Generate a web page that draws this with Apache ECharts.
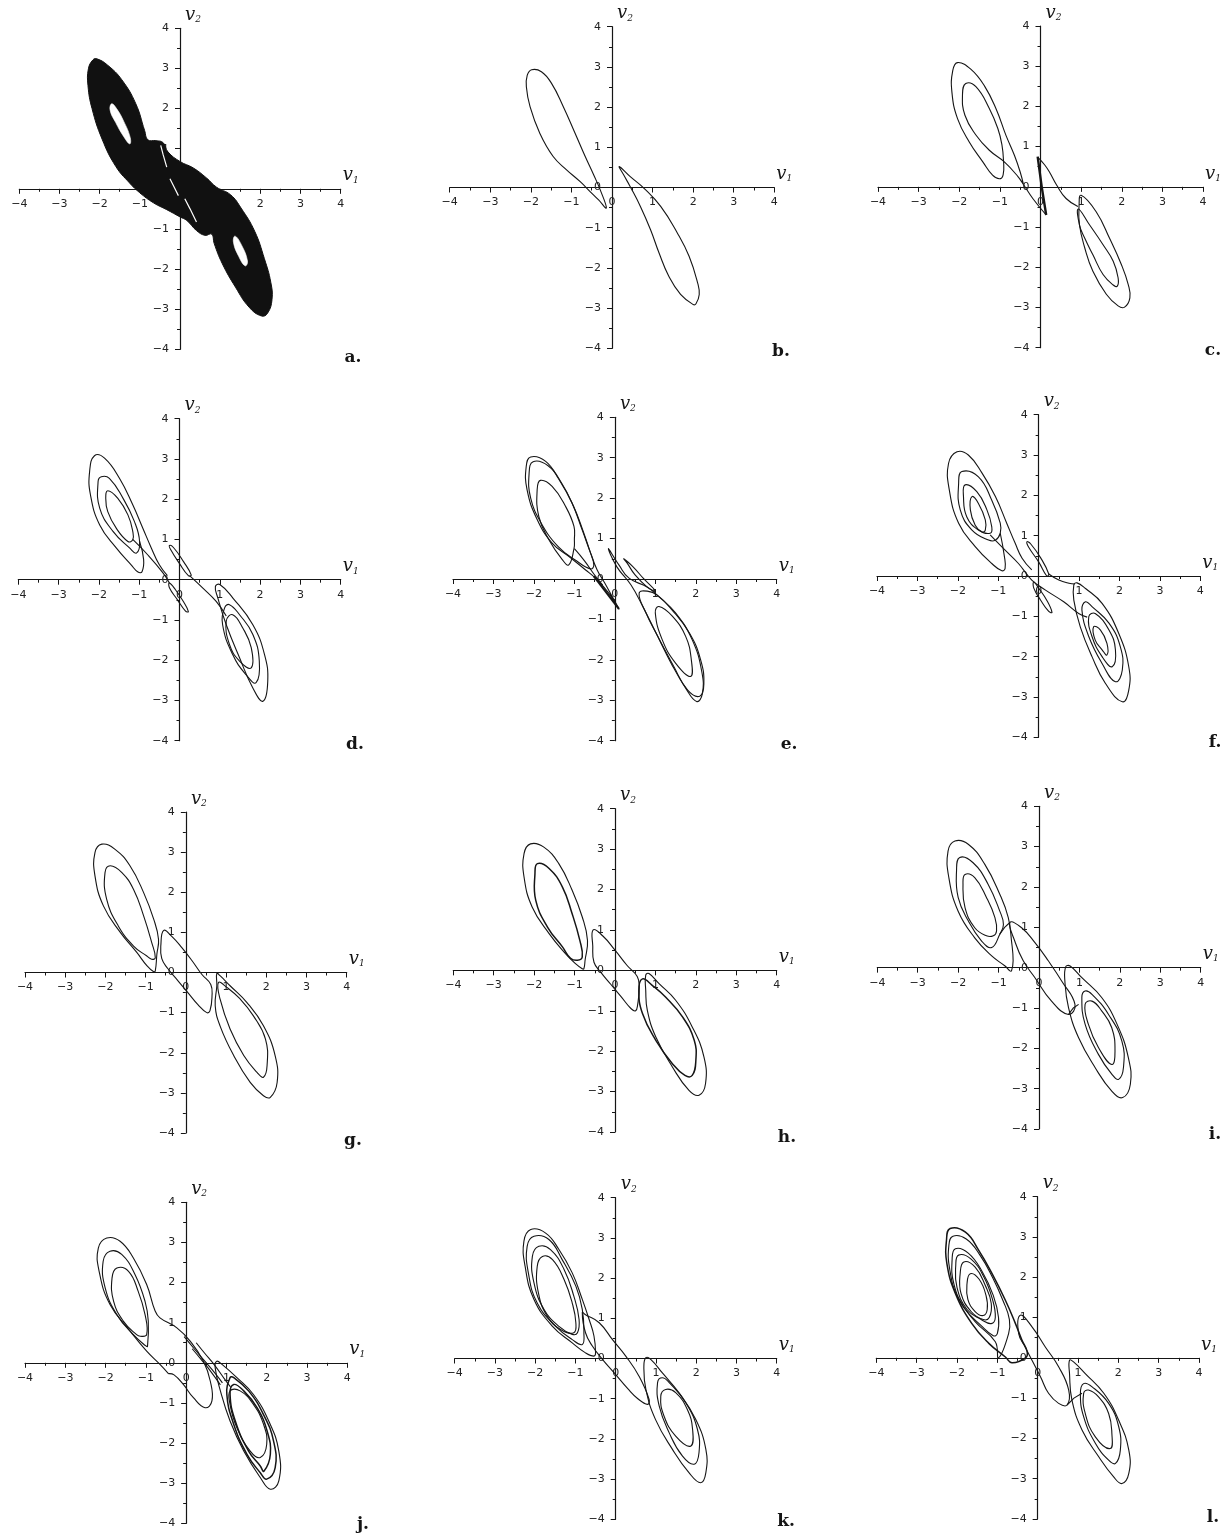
<!DOCTYPE html>
<html>
<head>
<meta charset="utf-8">
<script src="https://cdn.jsdelivr.net/npm/echarts@6/dist/echarts.min.js"></script>
<style>
html,body{margin:0;padding:0;background:#fff}
#main{width:1228px;height:1534px}
</style>
</head>
<body>
<div id="main"></div>
<script>
// axis ticks shared by all twelve panels
const tickValues = [-4, -3, -2, -1, 0, 1, 2, 3, 4];
const panelLetters = ['a.', 'b.', 'c.', 'd.', 'e.', 'f.', 'g.', 'h.', 'i.', 'j.', 'k.', 'l.'];

// ---- a: filled attractor (outline + white gaps) ----
const aOutline = [[-2.07,3.24],[-1.8,3.08],[-1.45,2.72],[-1.1,2.12],[-0.88,1.45],[-0.8,1.22],[-0.6,1.2],[-0.42,1.15],[-0.3,0.92],[0,0.68],[0.33,0.52],[0.66,0.27],[0.91,0.04],[1.26,-0.15],[1.52,-0.48],[1.86,-1.06],[2.1,-1.74],[2.26,-2.33],[2.29,-2.76],[2.18,-3.1],[2.03,-3.17],[1.72,-2.95],[1.38,-2.45],[1.05,-1.86],[0.85,-1.36],[0.79,-1.13],[0.62,-1.16],[0.41,-1.04],[0.17,-0.79],[0,-0.7],[-0.33,-0.52],[-0.66,-0.35],[-1.0,-0.1],[-1.26,0.15],[-1.6,0.56],[-1.94,1.24],[-2.19,2.0],[-2.29,2.57],[-2.28,2.99],[-2.17,3.21]];
const aHoleL = [[-1.70,2.12],[-1.58,2.0],[-1.40,1.68],[-1.24,1.28],[-1.25,1.12],[-1.40,1.30],[-1.60,1.65],[-1.74,1.96]];
const aHoleR = [[1.37,-1.18],[1.52,-1.38],[1.68,-1.8],[1.62,-1.92],[1.46,-1.68],[1.33,-1.33]];
const aGap1 = [[-0.48,1.08],[-0.42,0.85],[-0.33,0.54]];
const aGap2 = [[-0.25,0.25],[-0.15,0.05],[-0.04,-0.17]];
const aGap3 = [[0.12,-0.25],[0.25,-0.5],[0.41,-0.83]];

// ---- b ----
const bLoopL = [[-1.98,2.93],[-1.74,2.88],[-1.49,2.59],[-1.2,2.01],[-0.91,1.35],[-0.66,0.77],[-0.45,0.31],[-0.29,-0.06],[-0.14,-0.51],[-0.33,-0.31],[-0.54,-0.1],[-0.79,0.15],[-1.12,0.44],[-1.45,0.77],[-1.78,1.35],[-2.02,2.01],[-2.11,2.5],[-2.09,2.79]];
const bLoopR = [[0.18,0.52],[0.45,0.27],[0.79,-0.02],[1.2,-0.47],[1.61,-1.13],[1.9,-1.71],[2.11,-2.37],[2.15,-2.66],[2.07,-2.89],[2.0,-2.91],[1.69,-2.66],[1.4,-2.21],[1.16,-1.63],[0.95,-1.05],[0.7,-0.47],[0.45,0.02],[0.29,0.31]];

// ---- c ----
const cLeft = [[-0.42,0.06],[-0.5,0.37],[-0.64,0.78],[-0.85,1.28],[-1.09,1.93],[-1.38,2.51],[-1.71,2.92],[-2.04,3.09],[-2.16,2.89],[-2.18,2.35],[-2.04,1.69],[-1.75,1.11],[-1.42,0.62],[-1.18,0.29],[-1.01,0.2],[-0.92,0.3],[-0.91,0.65],[-0.95,1.05],[-1.05,1.45],[-1.26,1.95],[-1.59,2.49],[-1.84,2.57],[-1.92,2.3],[-1.86,1.78],[-1.59,1.29],[-1.26,0.91],[-0.89,0.62],[-0.55,0.25],[-0.42,0.06],[-0.19,-0.29],[0.14,-0.7]];
const cCross = [[-0.07,0.75],[0.03,0.0],[0.14,-0.7]];
const cLink = [[-0.07,0.74],[0.1,0.55],[0.22,0.37],[0.4,0.04],[0.63,-0.29],[0.92,-0.49]];
const cLoopRO = [[1.0,-0.21],[1.37,-0.62],[1.7,-1.28],[1.99,-1.93],[2.16,-2.43],[2.2,-2.76],[2.07,-2.99],[1.91,-2.96],[1.62,-2.67],[1.29,-2.1],[1.09,-1.52],[0.96,-0.95],[0.95,-0.45]];
const cLoopRI = [[0.93,-0.55],[1.21,-0.95],[1.54,-1.44],[1.79,-1.85],[1.91,-2.26],[1.89,-2.47],[1.79,-2.44],[1.54,-2.18],[1.29,-1.69],[1.09,-1.28],[0.96,-0.95]];

// ---- d ----
const dLeftOuter = [[-0.3,0.1],[-0.5,0.37],[-0.7,0.79],[-0.91,1.28],[-1.16,1.86],[-1.49,2.52],[-1.86,3.02],[-2.11,3.08],[-2.23,2.69],[-2.21,2.11],[-1.98,1.36],[-1.57,0.79],[-1.2,0.37],[-1.03,0.19],[-0.93,0.2],[-0.89,0.5],[-0.99,0.95]];
const dLoopLM = [[-1.94,2.56],[-1.74,2.52],[-1.4,2.02],[-1.12,1.45],[-0.99,0.95],[-1.07,0.66],[-1.24,0.79],[-1.65,1.2],[-1.98,1.78],[-2.02,2.44]];
const dLoopLI = [[-1.78,2.21],[-1.53,2.02],[-1.28,1.61],[-1.16,1.2],[-1.16,0.99],[-1.28,0.95],[-1.57,1.28],[-1.78,1.69],[-1.83,2.02]];
const dSmallU = [[-0.25,0.85],[-0.15,0.8],[0.1,0.45],[0.29,0.12],[0.22,0.1],[0.0,0.4],[-0.22,0.75]];
const dSmallD = [[-0.25,-0.08],[-0.1,-0.25],[0.1,-0.55],[0.22,-0.79],[0.15,-0.78],[-0.05,-0.5],[-0.25,-0.2]];
const dLink1 = [[-1.16,1.0],[-0.79,0.62],[-0.41,0.17],[-0.25,-0.08]];
const dLink2 = [[0.25,0.1],[0.58,-0.21],[0.91,-0.54],[1.16,-0.9]];
const dLoopRO = [[0.89,-0.17],[1.0,-0.12],[1.32,-0.45],[1.82,-1.12],[2.11,-1.86],[2.19,-2.52],[2.07,-3.02],[1.82,-2.69],[1.49,-1.94],[1.16,-1.12],[0.95,-0.45]];
const dLoopRM = [[1.9,-2.56],[1.98,-2.02],[1.82,-1.36],[1.49,-0.87],[1.24,-0.62],[1.12,-0.7],[1.07,-1.12],[1.32,-1.86],[1.65,-2.36]];
const dLoopRI = [[1.78,-2.19],[1.78,-1.69],[1.57,-1.2],[1.32,-0.87],[1.16,-1.03],[1.24,-1.61],[1.49,-2.02]];

// ---- e ----
const eLoopL1 = [[-2.08,3.02],[-1.71,2.91],[-1.38,2.46],[-1.06,1.88],[-0.81,1.22],[-0.6,0.64],[-0.44,0.23],[-0.25,-0.1],[0.1,-0.74],[-0.15,-0.35],[-0.48,0.02],[-0.73,0.23],[-1.14,0.56],[-1.55,0.89],[-1.92,1.47],[-2.17,2.21],[-2.19,2.79]];
const eLoopL2 = [[-2.02,2.9],[-1.65,2.8],[-1.32,2.38],[-1.02,1.8],[-0.79,1.2],[-0.62,0.7],[-0.52,0.35],[-0.6,0.25],[-0.95,0.45],[-1.4,0.8],[-1.83,1.4],[-2.08,2.0],[-2.12,2.6]];
const eLoopLI = [[-1.84,2.44],[-1.55,2.29],[-1.22,1.8],[-1.01,1.3],[-1.0,0.97],[-1.01,0.75],[-1.14,0.35],[-1.3,0.48],[-1.63,0.97],[-1.88,1.55],[-1.92,2.21]];
const eLoopR1 = [[2.02,-3.03],[2.16,-2.85],[2.15,-2.3],[1.91,-1.5],[1.5,-0.84],[1.1,-0.45],[0.8,-0.2],[0.35,0.02],[0.1,0.35],[-0.16,0.75],[0.05,0.3],[0.4,-0.15],[0.7,-0.7],[1.0,-1.3],[1.4,-2.1],[1.75,-2.7]];
const eLoopR2 = [[2.1,-2.9],[2.2,-2.6],[2.12,-2.0],[1.85,-1.35],[1.4,-0.75],[1.05,-0.4],[0.8,-0.3],[0.6,-0.35],[0.75,-0.8],[1.05,-1.4],[1.45,-2.15],[1.8,-2.75]];
const eLoopRI = [[1.87,-2.41],[1.89,-2.0],[1.75,-1.42],[1.42,-0.92],[1.09,-0.68],[1.0,-0.84],[1.17,-1.5],[1.5,-2.08]];
const eSmall = [[0.22,0.5],[0.45,0.3],[0.7,0.02],[1.0,-0.3],[0.8,-0.2],[0.5,0.1],[0.3,0.4]];
const eLink = [[-1.0,0.75],[-0.75,0.45],[-0.5,0.1],[-0.3,-0.15]];
const eBold = [[-0.52,0.07],[0.1,-0.74]];

// ---- f ----
const fLeftOuter = [[-0.17,0.15],[-0.41,0.44],[-0.58,0.81],[-0.79,1.31],[-1.07,1.97],[-1.4,2.55],[-1.74,3.0],[-2.02,3.08],[-2.23,2.79],[-2.21,2.13],[-1.98,1.31],[-1.57,0.73],[-1.16,0.31],[-0.91,0.13],[-0.83,0.19],[-0.85,0.5],[-0.95,1.06]];
const fLoopL2 = [[-1.9,2.59],[-1.49,2.46],[-1.16,1.88],[-0.95,1.31],[-0.95,1.06],[-1.07,0.89],[-1.24,0.89],[-1.65,1.14],[-1.94,1.64],[-1.98,2.3]];
const fLoopL3 = [[-1.82,2.26],[-1.53,2.09],[-1.28,1.64],[-1.16,1.22],[-1.2,1.06],[-1.49,1.14],[-1.78,1.47],[-1.86,1.97]];
const fLoopL4 = [[-1.65,1.97],[-1.49,1.8],[-1.32,1.39],[-1.32,1.14],[-1.4,1.09],[-1.57,1.26],[-1.69,1.64]];
const fLink = [[-1.2,1.02],[-0.83,0.64],[-0.5,0.31],[-0.17,-0.1],[0.17,-0.35],[0.62,-0.64],[0.99,-0.93],[1.2,-1.02]];
const fSmallU = [[-0.29,0.85],[-0.2,0.8],[0.05,0.45],[0.25,0.05],[0.2,0.0],[0.0,0.35],[-0.25,0.72]];
const fSmallD = [[-0.12,-0.15],[0.0,-0.3],[0.2,-0.6],[0.33,-0.9],[0.25,-0.88],[0.05,-0.6],[-0.12,-0.3]];
const fLink2 = [[0.25,0.05],[0.5,-0.1],[0.75,-0.18],[0.9,-0.2]];
const fLoopR1 = [[2.07,-3.12],[2.23,-2.83],[2.23,-2.25],[1.98,-1.42],[1.57,-0.68],[1.16,-0.31],[0.95,-0.17],[0.87,-0.22],[0.87,-0.6],[1.03,-1.26],[1.32,-2.0],[1.65,-2.66]];
const fLoopR2 = [[1.9,-2.62],[2.07,-2.33],[2.02,-1.75],[1.74,-1.17],[1.32,-0.76],[1.16,-0.64],[1.07,-0.84],[1.24,-1.5],[1.57,-2.17]];
const fLoopR3 = [[1.82,-2.25],[1.9,-1.83],[1.74,-1.34],[1.4,-0.93],[1.24,-1.01],[1.32,-1.5],[1.57,-2.0]];
const fLoopR4 = [[1.69,-1.96],[1.69,-1.67],[1.53,-1.34],[1.36,-1.26],[1.4,-1.59],[1.57,-1.83]];

// ---- g ----
const gLoopLO = [[-2.09,3.2],[-1.76,3.07],[-1.39,2.66],[-1.05,1.99],[-0.8,1.33],[-0.68,0.83],[-0.72,0.46],[-0.76,0.04],[-0.8,0.02],[-0.97,0.17],[-1.22,0.5],[-1.63,1.0],[-2.05,1.66],[-2.26,2.41],[-2.26,2.99]];
const gLoopLI = [[-1.88,2.66],[-1.59,2.49],[-1.3,2.07],[-1.05,1.41],[-0.85,0.75],[-0.76,0.37],[-0.85,0.33],[-0.97,0.41],[-1.3,0.66],[-1.68,1.16],[-1.97,1.83],[-2.01,2.49]];
const gMid = [[-0.55,1.05],[-0.35,0.9],[-0.1,0.62],[0.15,0.3],[0.4,-0.05],[0.62,-0.3],[0.65,-0.6],[0.6,-0.95],[0.52,-1.0],[0.3,-0.8],[0.05,-0.5],[-0.2,-0.2],[-0.45,0.1],[-0.6,0.35],[-0.62,0.7]];
const gLoopRO = [[2.1,-3.11],[2.27,-2.74],[2.22,-2.07],[1.93,-1.33],[1.52,-0.75],[1.1,-0.33],[0.85,-0.08],[0.77,-0.02],[0.77,-0.33],[0.73,-0.83],[0.85,-1.33],[1.19,-2.07],[1.6,-2.74],[1.93,-3.07]];
const gLoopRI = [[1.93,-2.61],[2.02,-2.32],[1.98,-1.66],[1.68,-1.08],[1.35,-0.66],[1.02,-0.37],[0.81,-0.25],[0.85,-0.66],[1.1,-1.41],[1.44,-2.07],[1.77,-2.49]];

// ---- h ----
const hLoopLO = [[-2.09,3.13],[-1.76,3.05],[-1.39,2.64],[-1.06,1.98],[-0.81,1.32],[-0.68,0.74],[-0.74,0.25],[-0.77,0.04],[-0.81,0.04],[-0.97,0.16],[-1.22,0.41],[-1.63,0.91],[-2.05,1.57],[-2.25,2.31],[-2.25,2.89]];
const hLoopLI = [[-1.92,2.64],[-1.63,2.52],[-1.3,2.06],[-1.06,1.4],[-0.87,0.74],[-0.81,0.33],[-0.93,0.25],[-1.1,0.3],[-1.3,0.58],[-1.67,1.07],[-1.96,1.73],[-1.98,2.39]];
const hMid = [[-0.54,1.0],[-0.3,0.85],[0.0,0.5],[0.3,0.12],[0.55,-0.15],[0.6,-0.4],[0.56,-0.85],[0.51,-1.0],[0.4,-0.95],[0.15,-0.65],[-0.1,-0.35],[-0.35,-0.05],[-0.52,0.2],[-0.55,0.6]];
const hLoopRO = [[2.08,-3.09],[2.24,-2.8],[2.2,-2.14],[1.91,-1.4],[1.5,-0.74],[1.09,-0.33],[0.84,-0.08],[0.76,-0.12],[0.76,-0.49],[0.8,-0.99],[1.01,-1.65],[1.42,-2.39],[1.83,-2.97]];
const hLoopRI = [[1.91,-2.6],[2.0,-2.23],[1.96,-1.73],[1.67,-1.15],[1.25,-0.66],[0.92,-0.37],[0.68,-0.21],[0.59,-0.49],[0.68,-1.07],[1.01,-1.73],[1.42,-2.31],[1.73,-2.6]];

// ---- i ----
const iLoopL1 = [[-2.08,3.14],[-1.75,3.06],[-1.34,2.56],[-0.97,1.82],[-0.76,1.24],[-0.68,0.66],[-0.64,0.17],[-0.68,-0.08],[-0.72,-0.08],[-0.84,0.04],[-1.17,0.29],[-1.59,0.74],[-2.0,1.4],[-2.23,2.23],[-2.25,2.89]];
const iLoopL2 = [[-1.96,2.73],[-1.63,2.6],[-1.26,2.07],[-0.97,1.4],[-0.88,1.07],[-0.97,0.83],[-1.17,0.5],[-1.42,0.66],[-1.75,1.16],[-2.0,1.74],[-2.04,2.4]];
const iLoopL3 = [[-1.83,2.31],[-1.59,2.23],[-1.3,1.74],[-1.09,1.24],[-1.05,0.91],[-1.13,0.79],[-1.3,0.79],[-1.59,0.99],[-1.83,1.49],[-1.88,2.07]];
const iMid = [[-0.72,1.12],[-0.43,0.99],[-0.1,0.62],[0.23,0.17],[0.56,-0.33],[0.89,-0.91],[0.73,-1.16],[0.31,-0.83],[-0.1,-0.25],[-0.39,0.17],[-0.6,0.66]];
const iLink1 = [[-0.97,0.83],[-0.85,1.0],[-0.72,1.12]];
const iLink2 = [[0.73,-1.16],[0.85,-1.0],[0.98,-0.91]];
const iLoopR1 = [[2.07,-3.22],[2.26,-2.89],[2.21,-2.23],[1.93,-1.4],[1.55,-0.74],[1.06,-0.25],[0.77,0.04],[0.66,0.02],[0.64,-0.33],[0.73,-0.99],[0.98,-1.74],[1.39,-2.48],[1.8,-3.06]];
const iLoopR2 = [[1.97,-2.77],[2.09,-2.47],[2.05,-1.82],[1.72,-1.16],[1.31,-0.66],[1.14,-0.58],[1.06,-0.74],[1.14,-1.4],[1.47,-2.15],[1.8,-2.64]];
const iLoopR3 = [[1.8,-2.4],[1.88,-2.07],[1.8,-1.49],[1.55,-1.07],[1.31,-0.83],[1.14,-0.91],[1.22,-1.4],[1.47,-1.98]];

// ---- j ----
const jLeftOuter = [[-0.44,-0.27],[-0.65,-0.04],[-0.98,0.29],[-1.39,0.79],[-1.89,1.45],[-2.16,2.28],[-2.18,2.86],[-1.97,3.11],[-1.64,3.03],[-1.31,2.61],[-0.98,1.95],[-0.77,1.29],[-0.65,1.12],[-0.23,0.87],[0.1,0.54],[0.43,0.04],[0.6,-0.46],[0.64,-0.95],[0.47,-1.12],[0.18,-0.87],[-0.07,-0.54],[-0.3,-0.3],[-0.44,-0.27]];
const jLoopLM = [[-1.89,2.78],[-1.6,2.7],[-1.27,2.2],[-1.02,1.53],[-0.94,1.04],[-0.96,0.41],[-1.0,0.42],[-1.31,0.7],[-1.72,1.2],[-2.01,1.87],[-2.06,2.53]];
const jLoopLI = [[-1.72,2.36],[-1.43,2.28],[-1.19,1.78],[-1.02,1.2],[-0.98,0.7],[-1.14,0.66],[-1.23,0.7],[-1.56,1.04],[-1.8,1.53],[-1.84,2.11]];
const jLink1 = [[-0.05,0.65],[0.2,0.35],[0.5,0.0],[0.75,-0.3],[0.9,-0.5]];
const jLink2 = [[0.25,0.5],[0.45,0.25],[0.7,-0.05],[0.95,-0.4],[1.1,-0.6]];
const jLink3 = [[0.15,0.35],[0.4,0.05],[0.6,-0.2],[0.85,-0.55]];
const jLoopR1 = [[2.09,-3.15],[2.3,-2.94],[2.3,-2.2],[2.05,-1.45],[1.67,-0.79],[1.26,-0.37],[0.89,-0.04],[0.76,0.04],[0.72,-0.12],[0.85,-0.7],[1.09,-1.45],[1.43,-2.2],[1.84,-2.86]];
const jLoopR2 = [[2.0,-2.9],[2.21,-2.61],[2.17,-1.95],[1.92,-1.29],[1.55,-0.7],[1.18,-0.37],[1.09,-0.37],[1.01,-0.79],[1.18,-1.53],[1.51,-2.28],[1.84,-2.74]];
const jLoopR3 = [[1.93,-2.7],[2.09,-2.28],[2.01,-1.7],[1.76,-1.12],[1.43,-0.7],[1.18,-0.54],[1.09,-0.79],[1.22,-1.45],[1.55,-2.2],[1.84,-2.57]];
const jLoopR4 = [[1.84,-2.36],[2.0,-2.03],[1.92,-1.53],[1.67,-1.04],[1.34,-0.7],[1.09,-0.7],[1.09,-1.04],[1.26,-1.62],[1.59,-2.2]];

// ---- k ----
const kLoopL1 = [[-2.11,3.21],[-1.74,3.12],[-1.41,2.71],[-1.08,2.13],[-0.83,1.47],[-0.66,0.97],[-0.54,0.56],[-0.5,0.14],[-0.54,0.06],[-0.75,0.14],[-1.08,0.39],[-1.57,0.8],[-2.03,1.47],[-2.25,2.29],[-2.28,2.92]];
const kLoopL2 = [[-2.03,3.04],[-1.66,2.96],[-1.33,2.46],[-0.99,1.8],[-0.83,1.22],[-0.79,0.64],[-0.83,0.35],[-1.08,0.47],[-1.49,0.8],[-1.95,1.38],[-2.17,2.13],[-2.2,2.79]];
const kLoopL3 = [[-1.91,2.79],[-1.62,2.71],[-1.28,2.21],[-1.04,1.55],[-0.91,0.97],[-0.95,0.64],[-1.08,0.6],[-1.41,0.8],[-1.78,1.22],[-2.03,1.88],[-2.07,2.54]];
const kLoopL4 = [[-1.82,2.54],[-1.57,2.46],[-1.28,1.96],[-1.08,1.38],[-0.99,0.89],[-1.04,0.64],[-1.37,0.72],[-1.7,1.05],[-1.92,1.63],[-1.95,2.29]];
const kMid = [[-0.75,1.09],[-0.41,0.89],[-0.08,0.47],[0.25,0.06],[0.58,-0.44],[0.83,-1.02],[0.79,-1.14],[0.55,-1.0],[0.3,-0.75],[0.0,-0.4],[-0.33,-0.02],[-0.58,0.31],[-0.75,0.64],[-0.83,1.14]];
const kLoopR1 = [[2.11,-3.09],[2.24,-2.84],[2.24,-2.26],[1.99,-1.52],[1.57,-0.85],[1.16,-0.36],[0.87,-0.02],[0.75,0.02],[0.7,-0.19],[0.75,-0.77],[0.99,-1.52],[1.41,-2.26],[1.82,-2.84]];
const kLoopR2 = [[1.95,-2.63],[2.07,-2.34],[2.03,-1.76],[1.74,-1.1],[1.33,-0.6],[1.16,-0.48],[1.04,-0.6],[1.08,-1.18],[1.33,-1.85],[1.66,-2.43]];
const kLoopR3 = [[1.86,-2.18],[1.91,-1.76],[1.78,-1.27],[1.49,-0.85],[1.24,-0.77],[1.12,-0.94],[1.2,-1.43],[1.49,-1.93]];

// ---- l ----
const lLoopL1 = [[-2.17,3.21],[-1.79,3.12],[-1.46,2.67],[-1.13,2.09],[-0.8,1.43],[-0.55,0.85],[-0.39,0.44],[-0.26,0.15],[-0.3,0.0],[-0.64,-0.12],[-0.8,0.02],[-1.21,0.36],[-1.63,0.85],[-2.04,1.6],[-2.25,2.34],[-2.26,2.92]];
const lLoopL2 = [[-2.1,3.02],[-1.77,2.95],[-1.43,2.55],[-1.12,2.0],[-0.85,1.4],[-0.7,0.95],[-0.72,0.6],[-0.97,0.0],[-1.05,0.4],[-1.55,0.9],[-1.98,1.5],[-2.18,2.2],[-2.2,2.8]];
const lLoopL3 = [[-2.04,2.71],[-1.72,2.6],[-1.38,2.15],[-1.1,1.55],[-0.97,1.0],[-1.0,0.6],[-1.1,0.55],[-1.4,0.8],[-1.82,1.25],[-2.08,1.85],[-2.12,2.45]];
const lLoopL4 = [[-1.96,2.55],[-1.65,2.45],[-1.33,2.0],[-1.12,1.45],[-1.05,1.0],[-1.15,0.85],[-1.4,0.95],[-1.75,1.2],[-2.0,1.75],[-2.03,2.3]];
const lLoopL5 = [[-1.83,2.38],[-1.55,2.25],[-1.3,1.8],[-1.15,1.35],[-1.2,1.0],[-1.35,0.95],[-1.65,1.15],[-1.9,1.6],[-1.92,2.1]];
const lLoopL6 = [[-1.67,2.09],[-1.45,1.95],[-1.28,1.55],[-1.25,1.2],[-1.35,1.05],[-1.55,1.15],[-1.73,1.45],[-1.75,1.85]];
const lMid = [[-0.43,1.06],[-0.14,0.77],[0.19,0.27],[0.52,-0.22],[0.77,-0.8],[0.73,-1.17],[0.52,-1.13],[0.27,-0.88],[0.07,-0.47],[-0.31,0.27],[-0.47,0.6]];
const lLink = [[0.73,-1.17],[0.9,-1.0],[1.1,-0.88]];
const lLoopR1 = [[2.09,-3.12],[2.26,-2.87],[2.26,-2.29],[2.01,-1.55],[1.64,-0.88],[1.18,-0.39],[0.89,-0.1],[0.79,-0.06],[0.79,-0.39],[0.85,-1.05],[1.1,-1.79],[1.51,-2.45],[1.88,-2.95]];
const lLoopR2 = [[1.93,-2.62],[2.05,-2.29],[2.01,-1.71],[1.76,-1.13],[1.35,-0.72],[1.14,-0.64],[1.06,-0.88],[1.14,-1.46],[1.43,-2.12],[1.76,-2.54]];
const lLoopR3 = [[1.8,-2.25],[1.84,-1.88],[1.76,-1.38],[1.51,-0.97],[1.26,-0.8],[1.14,-0.88],[1.18,-1.38],[1.43,-1.96]];

// ---- layout: plot box of each panel [left, right, top, bottom] in px, and letter position ----
const layout = [
  {box:[19.3,340.7,28.3,349.3],  lp:[353,358]},
  {box:[449.7,774.3,26.7,348.3], lp:[781,352]},
  {box:[878,1203,26,347.7],      lp:[1213,351]},
  {box:[18.3,340.7,418.7,740.7], lp:[355,745]},
  {box:[453,776.7,417.3,740.7],  lp:[789,745]},
  {box:[877,1200.3,414.7,737.3], lp:[1215,743]},
  {box:[25,346.7,812,1133],      lp:[353,1141]},
  {box:[453.3,776.7,808.7,1132], lp:[787,1138]},
  {box:[877.3,1200.7,806.3,1129],lp:[1215,1135]},
  {box:[25,347.3,1202.3,1523.3], lp:[363,1525]},
  {box:[454.7,776.7,1197.7,1519.3], lp:[786,1522]},
  {box:[876.3,1199,1196.7,1519], lp:[1213,1518]}
];

const loop = (pts, w) => ({pts, closed: true, w});
const path = (pts, w) => ({pts, closed: false, w});

const curves = [
  [ {pts:aOutline, closed:true, fill:'#111', stroke:'#111', w:1},
    {pts:aHoleL, closed:true, fill:'#fff', stroke:'#fff', w:0.6},
    {pts:aHoleR, closed:true, fill:'#fff', stroke:'#fff', w:0.6},
    {pts:aGap1, closed:false, stroke:'#fff', w:1.2},
    {pts:aGap2, closed:false, stroke:'#fff', w:1.2},
    {pts:aGap3, closed:false, stroke:'#fff', w:1.2} ],
  [ loop(bLoopL), loop(bLoopR) ],
  [ path(cLeft), path(cCross, 2.4), path(cLink), loop(cLoopRO), loop(cLoopRI) ],
  [ path(dLeftOuter), loop(dLoopLM), loop(dLoopLI), loop(dSmallU), loop(dSmallD), path(dLink1), path(dLink2), loop(dLoopRO), loop(dLoopRM), loop(dLoopRI) ],
  [ loop(eLoopL1), loop(eLoopL2), loop(eLoopLI), loop(eLoopR1), loop(eLoopR2), loop(eLoopRI), loop(eSmall), path(eLink), path(eBold, 2.2) ],
  [ path(fLeftOuter), loop(fLoopL2), loop(fLoopL3), loop(fLoopL4), path(fLink), loop(fSmallU), loop(fSmallD), path(fLink2), loop(fLoopR1), loop(fLoopR2), loop(fLoopR3), loop(fLoopR4) ],
  [ loop(gLoopLO), loop(gLoopLI), loop(gMid), loop(gLoopRO), loop(gLoopRI) ],
  [ loop(hLoopLO), loop(hLoopLI, 1.5), loop(hMid), loop(hLoopRO), loop(hLoopRI, 1.5) ],
  [ loop(iLoopL1), loop(iLoopL2), loop(iLoopL3), loop(iMid), path(iLink1), path(iLink2), loop(iLoopR1), loop(iLoopR2), loop(iLoopR3) ],
  [ path(jLeftOuter), loop(jLoopLM), loop(jLoopLI), path(jLink1), path(jLink2), path(jLink3), loop(jLoopR1), loop(jLoopR2, 1.5), loop(jLoopR3, 1.5), loop(jLoopR4) ],
  [ loop(kLoopL1), loop(kLoopL2), loop(kLoopL3), loop(kLoopL4), loop(kMid), loop(kLoopR1), loop(kLoopR2), loop(kLoopR3) ],
  [ loop(lLoopL1, 1.5), loop(lLoopL2), loop(lLoopL3), loop(lLoopL4), loop(lLoopL5), loop(lLoopL6), loop(lMid), path(lLink), loop(lLoopR1), loop(lLoopR2), loop(lLoopR3) ]
];

const fmt = v => (v < 0 ? '\u2212' + (-v) : String(v));
const ink = '#151515';
const labelFont = '11px "DejaVu Sans", sans-serif';

const grids = [], xAxes = [], yAxes = [], series = [], graphics = [];

layout.forEach((p, i) => {
  const [L, R, T, B] = p.box;
  grids.push({left: L, top: T, width: R - L, height: B - T, containLabel: false, outerBoundsMode: 'none'});
  const axisCommon = {
    gridIndex: i, type: 'value', min: tickValues[0], max: tickValues[tickValues.length - 1], interval: 1,
    axisLine: {show: true, onZero: true, lineStyle: {color: ink, width: 1.2}},
    axisTick: {show: true, length: 5, lineStyle: {color: ink, width: 1}},
    minorTick: {show: true, splitNumber: 2, length: 3, lineStyle: {color: ink, width: 1}},
    splitLine: {show: false},
    axisLabel: {show: false}
  };
  xAxes.push(Object.assign({}, axisCommon));
  yAxes.push(Object.assign({}, axisCommon));

  // tick labels placed on the crossing axes through the panel's own scales
  const tickData = [];
  tickValues.forEach(v => { tickData.push([v, 0, 0]); tickData.push([0, v, 1]); });
  series.push({
    type: 'custom', coordinateSystem: 'cartesian2d', xAxisIndex: i, yAxisIndex: i,
    silent: true, animation: false, clip: false, z: 1,
    encode: {x: 0, y: 1},
    data: tickData,
    renderItem: (params, api) => {
      const onY = api.value(2) === 1;
      const v = onY ? api.value(1) : api.value(0);
      const pt = api.coord([api.value(0), api.value(1)]);
      return {
        type: 'text',
        x: pt[0] + (onY ? -11 : 0),
        y: pt[1] + (onY ? 0 : 15),
        style: {text: fmt(v), font: labelFont, fill: '#222', align: onY ? 'right' : 'center', verticalAlign: 'middle'}
      };
    }
  });

  const list = curves[i];
  series.push({
    type: 'custom', coordinateSystem: 'cartesian2d', xAxisIndex: i, yAxisIndex: i,
    silent: true, animation: false, clip: false, z: 3,
    encode: {x: 0, y: 1},
    data: list.map((c, k) => [0, 0, k]),
    renderItem: (params, api) => {
      const c = list[api.value(2)];
      const pts = c.pts.map(q => api.coord(q));
      return {
        type: c.closed ? 'polygon' : 'polyline',
        shape: {points: pts, smooth: c.pts.length > 3 ? 0.45 : 0},
        style: {fill: c.fill || 'none', stroke: c.stroke || ink, lineWidth: c.w || 1.1}
      };
    }
  });

  const oy = (T + B) / 2, ox = (L + R) / 2;
  const rich = {
    v: {fontFamily: 'DejaVu Serif', fontStyle: 'italic', fontSize: 18, fill: ink},
    s: {fontFamily: 'DejaVu Serif', fontStyle: 'italic', fontSize: 9, fill: ink, padding: [9, 0, 0, 0]}
  };
  graphics.push({type: 'text', x: R + 10, y: oy - 13, silent: true,
    style: {text: '{v|v}{s|1}', rich, align: 'center', verticalAlign: 'middle'}});
  graphics.push({type: 'text', x: ox + 13, y: T - 13, silent: true,
    style: {text: '{v|v}{s|2}', rich, align: 'center', verticalAlign: 'middle'}});
  graphics.push({type: 'text', x: p.lp[0], y: p.lp[1], silent: true,
    style: {text: panelLetters[i], font: 'bold 17px "DejaVu Serif"', fill: ink, align: 'center', verticalAlign: 'middle'}});
});

const chart = echarts.init(document.getElementById('main'), null, {renderer: 'canvas'});
chart.setOption({
  backgroundColor: '#fff',
  animation: false,
  grid: grids,
  xAxis: xAxes,
  yAxis: yAxes,
  series: series,
  graphic: graphics
});
</script>
</body>
</html>
